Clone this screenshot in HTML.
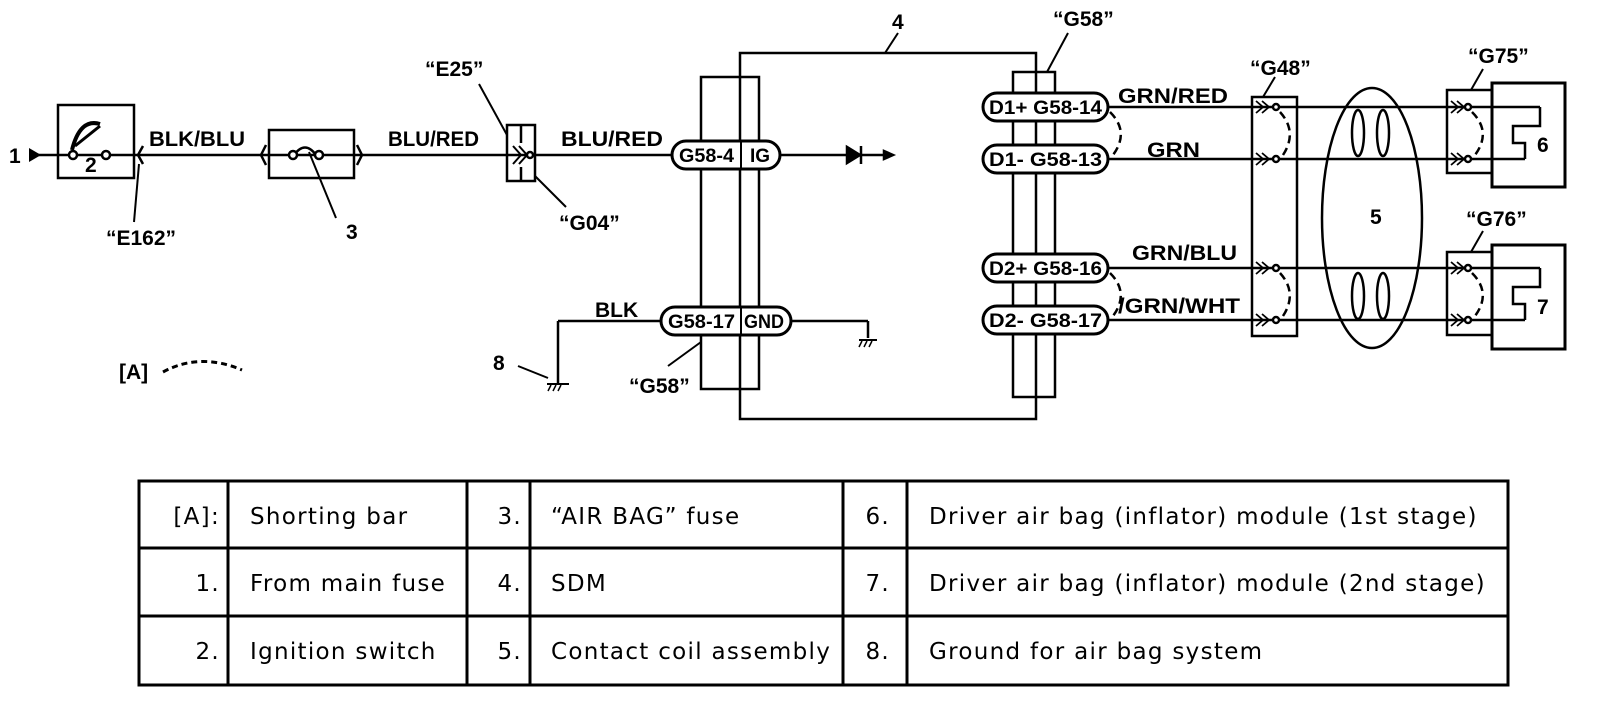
<!DOCTYPE html>
<html><head><meta charset="utf-8"><style>
html,body{margin:0;padding:0;background:#fff;width:1600px;height:706px;overflow:hidden}
svg{display:block}
.l{font-family:"Liberation Sans",Arial,sans-serif;font-weight:bold;font-size:21px;fill:#000}
.p{font-family:"Liberation Sans",Arial,sans-serif;font-weight:bold;font-size:19px;fill:#000}
.t{font-family:"DejaVu Sans",sans-serif;font-size:23px;letter-spacing:1.3px;fill:#000}
</style></head><body>
<svg width="1600" height="706" viewBox="0 0 1600 706" xmlns="http://www.w3.org/2000/svg">
<g fill="none" stroke="#000" stroke-width="2.5">
<line x1="34" y1="155" x2="672" y2="155"/>
<rect x="58" y="105" width="76" height="73"/>
<path d="M72 150 Q80 118 100 124" stroke-width="4"/>
<path d="M75 146 L100 126" stroke-width="3"/>
<circle cx="73" cy="155" r="4" fill="#fff"/><circle cx="106" cy="155" r="4" fill="#fff"/>
<path d="M143 146 L138 155 L143 164"/>
<line x1="139" y1="164" x2="134" y2="222" stroke-width="2"/>
<rect x="269" y="130" width="85" height="48"/>
<path d="M266 145 L261 155 L266 165 M357 145 L362 155 L357 165"/>
<path d="M294 155 Q305 140 316 155"/>
<circle cx="293" cy="155" r="4" fill="#fff"/><circle cx="319" cy="155" r="4" fill="#fff"/>
<line x1="309" y1="152" x2="336" y2="218" stroke-width="2"/>
<rect x="507" y="125" width="28" height="56"/>
<line x1="521" y1="125" x2="521" y2="143"/><line x1="521" y1="167" x2="521" y2="181"/>
<path d="M513 146 L521 155 L513 164 M519 146 L527 155 L519 164" stroke-width="2"/>
<circle cx="530" cy="155" r="3" fill="#fff"/>
<line x1="479" y1="84" x2="507" y2="135" stroke-width="2"/>
<line x1="535" y1="176" x2="566" y2="207" stroke-width="2"/>
<rect x="740" y="53" width="296" height="366"/>
<line x1="885" y1="53" x2="898" y2="33" stroke-width="2"/>
<rect x="701" y="77" width="58" height="312"/>
<line x1="780" y1="155" x2="886" y2="155"/>
<polygon points="847,147 860,155 847,163" fill="#000"/>
<polygon points="884,151 893,155 884,159" fill="#000"/>
<line x1="861" y1="146" x2="861" y2="164"/>
<line x1="791" y1="321" x2="868" y2="321"/><line x1="868" y1="321" x2="868" y2="338"/>
<line x1="859" y1="340" x2="877" y2="340" stroke-width="2"/>
<path d="M862 341 l-3 6 M867 341 l-3 6 M872 341 l-3 6" stroke-width="1.5"/>
<line x1="701" y1="342" x2="668" y2="366" stroke-width="2"/>
<line x1="558" y1="321" x2="661" y2="321"/><line x1="558" y1="321" x2="558" y2="383"/>
<line x1="547" y1="384" x2="569" y2="384" stroke-width="2"/>
<path d="M551 385 l-3 6 M556 385 l-3 6 M561 385 l-3 6" stroke-width="1.5"/>
<line x1="518" y1="366" x2="548" y2="378" stroke-width="2"/>
<path d="M163 372 Q200 352 242 370" stroke-dasharray="6 4" stroke-width="3"/>
<rect x="1013" y="72" width="42" height="325"/>
<line x1="1047" y1="72" x2="1068" y2="33" stroke-width="2"/>
<line x1="1108" y1="107" x2="1540" y2="107"/>
<line x1="1108" y1="159" x2="1525" y2="159"/>
<line x1="1108" y1="268" x2="1540" y2="268"/>
<line x1="1108" y1="320" x2="1525" y2="320"/>
<path d="M1110 112 Q1130 132 1113 155" stroke-dasharray="8 5"/>
<path d="M1110 273 Q1130 293 1113 316" stroke-dasharray="8 5"/>
<rect x="1252" y="97" width="45" height="239"/>
<line x1="1263" y1="97" x2="1275" y2="77" stroke-width="2"/>
<path d="M1256 101 l7 6 l-7 6 M1262 101 l7 6 l-7 6 M1256 153 l7 6 l-7 6 M1262 153 l7 6 l-7 6 M1256 262 l7 6 l-7 6 M1262 262 l7 6 l-7 6 M1256 314 l7 6 l-7 6 M1262 314 l7 6 l-7 6" stroke-width="1.8"/>
<circle cx="1276" cy="107" r="3" fill="#fff"/><circle cx="1276" cy="159" r="3" fill="#fff"/>
<circle cx="1276" cy="268" r="3" fill="#fff"/><circle cx="1276" cy="320" r="3" fill="#fff"/>
<path d="M1280 112 Q1298 132 1283 155" stroke-dasharray="8 5"/>
<path d="M1280 273 Q1298 293 1283 316" stroke-dasharray="8 5"/>
<ellipse cx="1372" cy="218" rx="50" ry="130"/>
<ellipse cx="1358" cy="133" rx="6" ry="23"/><ellipse cx="1383" cy="133" rx="6" ry="23"/>
<ellipse cx="1358" cy="296" rx="6" ry="23"/><ellipse cx="1383" cy="296" rx="6" ry="23"/>
<rect x="1447" y="90" width="45" height="83"/>
<line x1="1471" y1="90" x2="1483" y2="69" stroke-width="2"/>
<path d="M1451 101 l7 6 l-7 6 M1457 101 l7 6 l-7 6 M1451 153 l7 6 l-7 6 M1457 153 l7 6 l-7 6" stroke-width="1.8"/>
<circle cx="1468" cy="107" r="3" fill="#fff"/><circle cx="1468" cy="159" r="3" fill="#fff"/>
<path d="M1472 112 Q1492 132 1475 155" stroke-dasharray="8 5"/>
<rect x="1492" y="83" width="73" height="104" stroke-width="3"/>
<path d="M1540 107 L1540 126 L1513 126 L1513 143 L1525 143 L1525 159"/>
<rect x="1447" y="252" width="45" height="83"/>
<line x1="1471" y1="252" x2="1483" y2="231" stroke-width="2"/>
<path d="M1451 262 l7 6 l-7 6 M1457 262 l7 6 l-7 6 M1451 314 l7 6 l-7 6 M1457 314 l7 6 l-7 6" stroke-width="1.8"/>
<circle cx="1468" cy="268" r="3" fill="#fff"/><circle cx="1468" cy="320" r="3" fill="#fff"/>
<path d="M1472 273 Q1492 293 1475 316" stroke-dasharray="8 5"/>
<rect x="1492" y="245" width="73" height="104" stroke-width="3"/>
<path d="M1540 268 L1540 287 L1513 287 L1513 304 L1525 304 L1525 320"/>
</g>
<polygon points="29,148 41,155 29,162" fill="#000"/>
<g fill="#fff" stroke="#000" stroke-width="3">
<rect x="672" y="141" width="108" height="28" rx="14"/>
<rect x="661" y="307" width="130" height="28" rx="14"/>
<rect x="983" y="93" width="125" height="28" rx="14"/>
<rect x="983" y="145" width="125" height="28" rx="14"/>
<rect x="983" y="254" width="125" height="28" rx="14"/>
<rect x="983" y="306" width="125" height="28" rx="14"/>
</g>
<g stroke="#000" stroke-width="2"><line x1="741" y1="141" x2="741" y2="169"/><line x1="741" y1="307" x2="741" y2="335"/></g>
<g class="p">
<text x="679" y="162" textLength="55" lengthAdjust="spacingAndGlyphs">G58-4</text><text x="750" y="162">IG</text>
<text x="668" y="328" textLength="67" lengthAdjust="spacingAndGlyphs">G58-17</text><text x="744" y="328" textLength="40" lengthAdjust="spacingAndGlyphs">GND</text>
<text x="989" y="114" textLength="113" lengthAdjust="spacingAndGlyphs">D1+ G58-14</text>
<text x="989" y="166" textLength="113" lengthAdjust="spacingAndGlyphs">D1-  G58-13</text>
<text x="989" y="275" textLength="113" lengthAdjust="spacingAndGlyphs">D2+ G58-16</text>
<text x="989" y="327" textLength="113" lengthAdjust="spacingAndGlyphs">D2-  G58-17</text>
</g>
<g class="l">
<text x="9" y="163">1</text><text x="85" y="172">2</text>
<text x="149" y="146" textLength="96" lengthAdjust="spacingAndGlyphs">BLK/BLU</text>
<text x="388" y="146" textLength="91" lengthAdjust="spacingAndGlyphs">BLU/RED</text>
<text x="561" y="146" textLength="102" lengthAdjust="spacingAndGlyphs">BLU/RED</text>
<text x="106" y="245">“E162”</text><text x="346" y="239">3</text><text x="559" y="230">“G04”</text>
<text x="425" y="76">“E25”</text><text x="892" y="29">4</text><text x="1053" y="26">“G58”</text>
<text x="1250" y="75">“G48”</text><text x="1468" y="63">“G75”</text><text x="1466" y="226">“G76”</text>
<text x="1537" y="152">6</text><text x="1537" y="314">7</text><text x="1370" y="224">5</text>
<text x="1118" y="103" textLength="110" lengthAdjust="spacingAndGlyphs">GRN/RED</text>
<text x="1147" y="157" textLength="53" lengthAdjust="spacingAndGlyphs">GRN</text>
<text x="1132" y="260" textLength="105" lengthAdjust="spacingAndGlyphs">GRN/BLU</text>
<text x="1118" y="313" textLength="122" lengthAdjust="spacingAndGlyphs">/GRN/WHT</text>
<text x="595" y="317">BLK</text><text x="493" y="370">8</text><text x="119" y="379">[A]</text>
<text x="629" y="393">“G58”</text>
</g>
<g stroke="#000" stroke-width="3" fill="none">
<rect x="139" y="481" width="1369" height="204"/>
<line x1="139" y1="548" x2="1508" y2="548"/><line x1="139" y1="616" x2="1508" y2="616"/>
<line x1="228" y1="481" x2="228" y2="685"/><line x1="467" y1="481" x2="467" y2="685"/>
<line x1="530" y1="481" x2="530" y2="685"/><line x1="843" y1="481" x2="843" y2="685"/>
<line x1="907" y1="481" x2="907" y2="685"/>
</g>
<g class="t">
<text x="220" y="524" text-anchor="end">[A]:</text><text x="220" y="591" text-anchor="end">1.</text><text x="220" y="659" text-anchor="end">2.</text>
<text x="250" y="524">Shorting bar</text><text x="250" y="591">From main fuse</text><text x="250" y="659">Ignition switch</text>
<text x="522" y="524" text-anchor="end">3.</text><text x="522" y="591" text-anchor="end">4.</text><text x="522" y="659" text-anchor="end">5.</text>
<text x="551" y="524">“AIR BAG” fuse</text><text x="551" y="591">SDM</text><text x="551" y="659">Contact coil assembly</text>
<text x="890" y="524" text-anchor="end">6.</text><text x="890" y="591" text-anchor="end">7.</text><text x="890" y="659" text-anchor="end">8.</text>
<text x="929" y="524">Driver air bag (inflator) module (1st stage)</text>
<text x="929" y="591">Driver air bag (inflator) module (2nd stage)</text>
<text x="929" y="659">Ground for air bag system</text>
</g>
</svg>
</body></html>
